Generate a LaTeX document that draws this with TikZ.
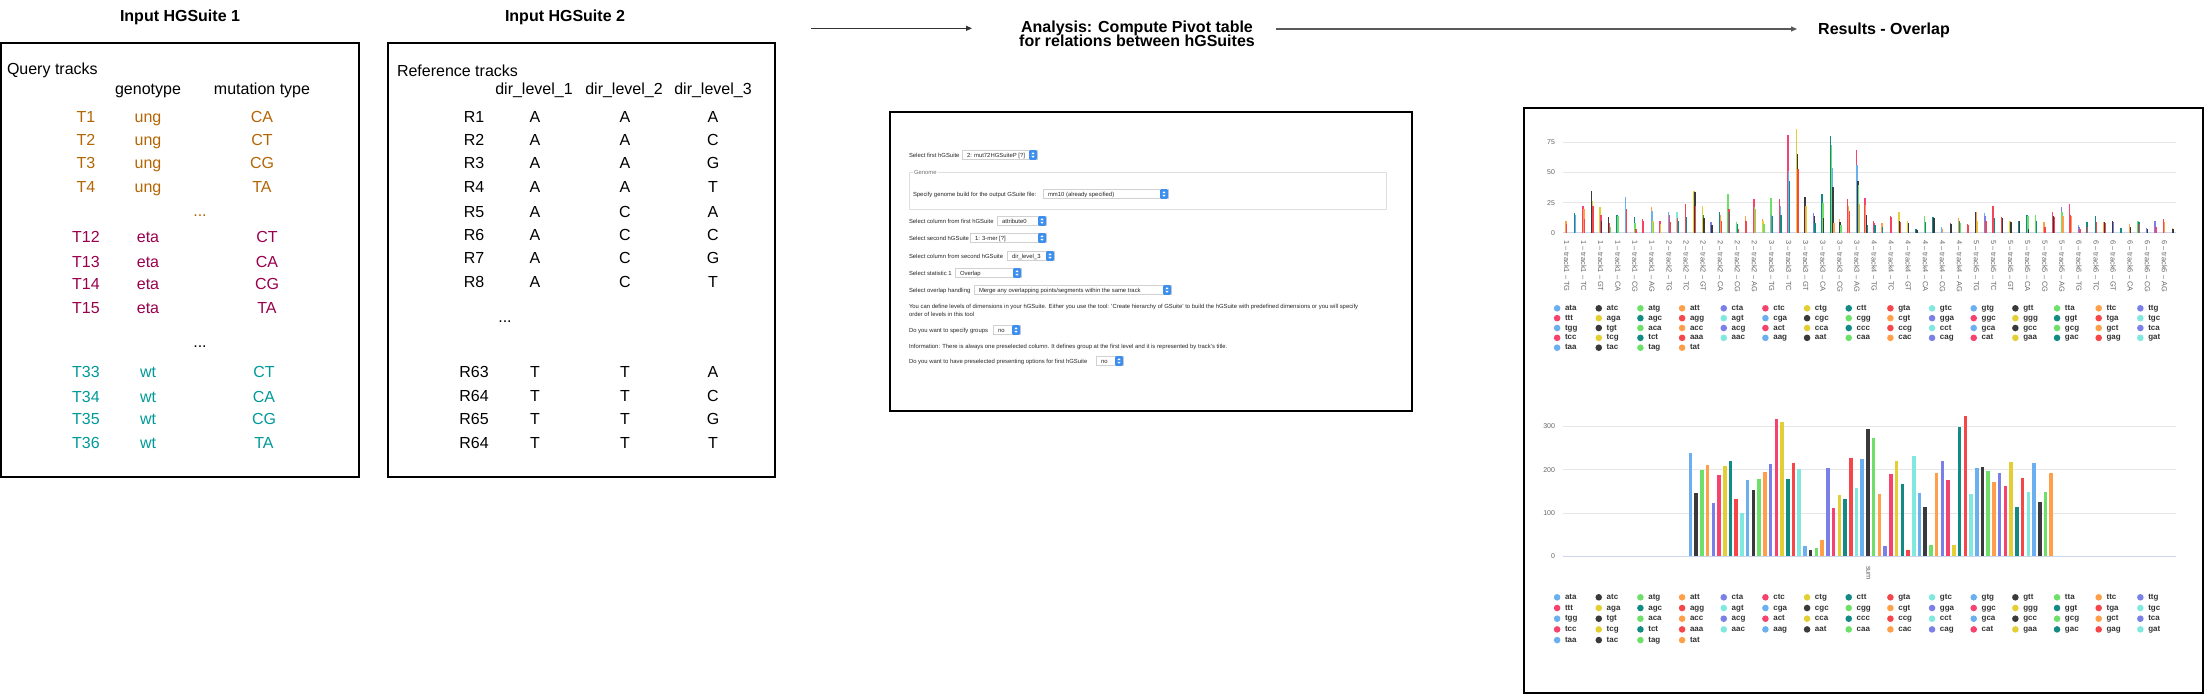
\documentclass[tikz,border=0pt]{standalone}
\usepackage{fontspec}
\setmainfont{Liberation Sans}
\usetikzlibrary{arrows.meta}
\definecolor{c0}{HTML}{6AAFEF}
\definecolor{c1}{HTML}{3A3A3C}
\definecolor{c2}{HTML}{6EE06A}
\definecolor{c3}{HTML}{FF9F4A}
\definecolor{c4}{HTML}{7B7FE8}
\definecolor{c5}{HTML}{F5426F}
\definecolor{c6}{HTML}{E3CF33}
\definecolor{c7}{HTML}{138A83}
\definecolor{c8}{HTML}{F5474A}
\definecolor{c9}{HTML}{80E8DF}
\definecolor{ungc}{HTML}{B46504}
\definecolor{etac}{HTML}{99004D}
\definecolor{wtc}{HTML}{009999}
\definecolor{hcgrid}{HTML}{E6E6E6}
\definecolor{hcaxis}{HTML}{CCD6EB}
\definecolor{hclab}{HTML}{666666}
\definecolor{hcleg}{HTML}{333333}
\definecolor{ddblue}{HTML}{3D8FEF}
\newcommand\dropdown[4]{%
  \draw[ddbox] (#1,{#3-4.4}) rectangle (#2,{#3+4.4});
  \node[small, anchor=west] at ({#1+5},#3) {#4};
  \fill[ddblue, rounded corners=1.2pt] ({#2-8},{#3-4.8}) rectangle (#2,{#3+4.8});
  \fill[white] ({#2-5.6},{#3-0.9}) -- ({#2-2.4},{#3-0.9}) -- ({#2-4},{#3-2.8}) -- cycle;
  \fill[white] ({#2-5.6},{#3+0.9}) -- ({#2-2.4},{#3+0.9}) -- ({#2-4},{#3+2.8}) -- cycle;
}
\newcommand\grp[2]{%
  \foreach \cc/\vv [count=\kk] in {#2}{%
    \fill[\cc] ({1566.7+8.54*(#1-1)+(\kk-2)*0.8-0.7},232.7) rectangle ++(1.4,{-1.204*\vv});
  }%
}
\newcommand\hclegend[2]{%
  \foreach \nm [count=\n from 0] in {ata,atc,atg,att,cta,ctc,ctg,ctt,gta,gtc,gtg,gtt,tta,ttc,ttg,
    ttt,aga,agc,agg,agt,cga,cgc,cgg,cgt,gga,ggc,ggg,ggt,tga,tgc,
    tgg,tgt,aca,acc,acg,act,cca,ccc,ccg,cct,gca,gcc,gcg,gct,tca,
    tcc,tcg,tct,aaa,aac,aag,aat,caa,cac,cag,cat,gaa,gac,gag,gat,
    taa,tac,tag,tat}{%
    \pgfmathtruncatemacro\ci{mod(\n,10)}%
    \pgfmathtruncatemacro\lrow{div(\n,15)}%
    \pgfmathtruncatemacro\lcol{mod(\n,15)}%
    \fill[c\ci] ({1557.1+41.66*\lcol},{#1+#2*\lrow}) circle (3.3);
    \node[leg, anchor=west] at ({1565+41.66*\lcol},{#1+#2*\lrow}) {\nm};
  }%
}
\begin{document}
\begin{tikzpicture}[x=1pt,y=-1pt,
  every node/.style={inner sep=0pt,outer sep=0pt},
  ttl/.style={font=\fontsize{16}{16}\selectfont\bfseries, text height=11.5pt, text depth=0pt},
  cell/.style={font=\fontsize{16}{16}\selectfont, text height=11.5pt, text depth=0pt},
  frame/.style={draw=black, line width=1.3pt},
  flow/.style={draw=black!80, line width=1.2pt, -{Triangle[length=6pt,width=5pt]}},
  small/.style={font=\fontsize{5.9}{7}\selectfont, text=black!85, text height=4.2pt, text depth=0pt},
  ddbox/.style={draw=black!18, fill=white, line width=0.5pt},
  hcg/.style={draw=hcgrid, line width=0.8pt},
  hcax/.style={draw=hcaxis, line width=0.9pt},
  ylab/.style={font=\fontsize{7}{7}\selectfont, text=hclab, text height=5pt, text depth=0pt},
  xlab/.style={font=\fontsize{7.4}{7.4}\selectfont, text=hclab, text height=5.3pt, text depth=0pt},
  leg/.style={font=\fontsize{8}{8}\selectfont\bfseries, text=hcleg, text height=4.2pt, text depth=0pt},
]
\useasboundingbox (0,0) rectangle (2205,694);

% ---------- titles and flow arrows ----------
\node[ttl] (t1) at (180,16) {Input HGSuite 1};
\node[ttl] (t2) at (565,16) {Input HGSuite 2};
\node[ttl] (an1) at (1137,27) {Analysis: Compute Pivot table};
\node[ttl] (an2) at (1137,41) {for relations between hGSuites};
\node[ttl] (res) at (1884,29) {Results - Overlap};
\coordinate (a1s) at (811,28.3);
\coordinate (a1e) at (972,28.3);
\coordinate (a2s) at (1276,29);
\coordinate (a2e) at (1797,29);
\draw[flow] (a1s) -- (a1e);
\draw[flow, draw=black!65] (a2s) -- (a2e);

% ---------- box 1 ----------
\node[frame, minimum width=358pt, minimum height=434pt, anchor=north west] (hg1) at (1,43) {};
\node[cell, anchor=west] (qt) at (7,69) {Query tracks};
\node[cell] (gh) at (148,88.3) {genotype};
\node[cell] (mh) at (262,88.3) {mutation type};
\foreach \ca/\cb/\cd/\yy in {T1/ung/CA/117,T2/ung/CT/140,T3/ung/CG/163,T4/ung/TA/187}{
  \node[cell, text=ungc] at (86,\yy) {\ca};
  \node[cell, text=ungc] at (148,\yy) {\cb};
  \node[cell, text=ungc] at (262,\yy) {\cd};
}
\node[cell, text=ungc] (d1) at (200,211) {...};
\foreach \ca/\cb/\cd/\yy in {T12/eta/CT/237,T13/eta/CA/262,T14/eta/CG/284,T15/eta/TA/308}{
  \node[cell, text=etac] at (86,\yy) {\ca};
  \node[cell, text=etac] at (148,\yy) {\cb};
  \node[cell, text=etac] at (267,\yy) {\cd};
}
\node[cell] (d2) at (200,342) {...};
\foreach \ca/\cb/\cd/\yy in {T33/wt/CT/372,T34/wt/CA/397,T35/wt/CG/419,T36/wt/TA/443}{
  \node[cell, text=wtc] at (86,\yy) {\ca};
  \node[cell, text=wtc] at (148,\yy) {\cb};
  \node[cell, text=wtc] at (264,\yy) {\cd};
}

% ---------- box 2 ----------
\node[frame, minimum width=387pt, minimum height=434pt, anchor=north west] (hg2) at (388,43) {};
\node[cell, anchor=west] (rt) at (397,70.8) {Reference tracks};
\node[cell] (h1) at (534,88.4) {dir\_level\_1};
\node[cell] (h2) at (624,88.4) {dir\_level\_2};
\node[cell] (h3) at (713,88.4) {dir\_level\_3};
\foreach \ca/\cb/\cd/\ce/\yy in {R1/A/A/A/117,R2/A/A/C/140,R3/A/A/G/163,R4/A/A/T/187,
   R5/A/C/A/212,R6/A/C/C/235,R7/A/C/G/258,R8/A/C/T/282,
   R63/T/T/A/372,R64/T/T/C/396,R65/T/T/G/419,R64/T/T/T/443}{
  \node[cell] at (474,\yy) {\ca};
  \node[cell] at (535,\yy) {\cb};
  \node[cell] at (625,\yy) {\cd};
  \node[cell] at (713,\yy) {\ce};
}
\node[cell] (d3) at (505,317) {...};

% ---------- analysis form ----------
\node[frame, minimum width=522pt, minimum height=299pt, anchor=north west] (form) at (890,112) {};
\node[small, anchor=west] at (909,155) {Select first hGSuite};
\dropdown{962}{1037}{155}{2: mut72HGSuiteP [?]}
\draw[draw=black!13, line width=0.5pt] (909,172) rectangle (1386,209);
\node[small, anchor=west, fill=white, text=black!55, inner xsep=1pt] at (913,172) {Genome};
\node[small, anchor=west] at (913,194) {Specify genome build for the output GSuite file:};
\dropdown{1043}{1168}{194}{mm10 (already specified)}
\node[small, anchor=west] at (909,221) {Select column from first hGSuite};
\dropdown{997}{1046}{221}{attribute0}
\node[small, anchor=west] at (909,238) {Select second hGSuite};
\dropdown{970}{1046}{238}{1: 3-mer [?]}
\node[small, anchor=west] at (909,256) {Select column from second hGSuite};
\dropdown{1007}{1054}{256}{dir\_level\_3}
\node[small, anchor=west] at (909,273) {Select statistic 1};
\dropdown{955}{1021}{273}{Overlap}
\node[small, anchor=west] at (909,290) {Select overlap handling};
\dropdown{974}{1171}{290}{Merge any overlapping points/segments within the same track}
\node[small, anchor=west] at (909,306) {You can define levels of dimensions in your hGSuite. Either you use the tool: 'Create hierarchy of GSuite' to build the hGSuite with predefined dimensions or you will specify};
\node[small, anchor=west] at (909,314) {order of levels in this tool};
\node[small, anchor=west] at (909,330) {Do you want to specify groups};
\dropdown{993}{1020}{330}{no}
\node[small, anchor=west] at (909,346) {Information: There is always one preselected column. It defines group at the first level and it is represented by track's title.};
\node[small, anchor=west] at (909,361) {Do you want to have preselected presenting options for first hGSuite};
\dropdown{1096}{1123}{361}{no}

% ---------- results ----------
\node[frame, minimum width=679pt, minimum height=585pt, anchor=north west] (resbox) at (1524,108) {};
% top chart
\foreach \yy in {142.3,172.4,202.5} \draw[hcg] (1563,\yy) -- (2176,\yy);
\draw[hcax] (1563,232.7) -- (2176,232.7);
\foreach \v/\yy in {75/142.3,50/172.4,25/202.5,0/232.7} \node[ylab,anchor=east] at (1555,\yy) {\v};
\grp{1}{c3/10,c8/7}
\grp{2}{c7/16,c0/15}
\grp{3}{c5/22,c3/20,c8/11}
\grp{4}{c1/35,c6/26,c8/22}
\grp{5}{c6/21,c5/15,c1/10}
\grp{6}{c1/13,c8/8,c2/5}
\grp{7}{c7/15,c2/14}
\grp{8}{c0/30,c8/20}
\grp{9}{c7/13,c2/8,c8/3}
\grp{10}{c5/11,c8/10}
\grp{11}{c3/21,c0/18,c6/10,c2/8}
\grp{12}{c5/10,c6/7}
\grp{13}{c0/17,c5/15,c8/9}
\grp{14}{c9/17,c8/12,c7/10}
\grp{15}{c8/24,c7/13}
\grp{16}{c6/35,c1/34,c8/22}
\grp{17}{c6/22,c7/15,c1/12}
\grp{18}{c4/9,c1/6}
\grp{19}{c7/17,c3/15,c8/10}
\grp{20}{c2/32,c8/20,c7/17}
\grp{21}{c2/9,c7/7,c8/3}
\grp{22}{c3/14,c8/10}
\grp{23}{c5/28,c2/21,c3/20}
\grp{24}{c3/11,c6/10,c2/7}
\grp{25}{c2/29,c4/15,c7/14}
\grp{26}{c5/28,c0/22,c7/15}
\grp{27}{c5/81,c0/51,c7/43}
\grp{28}{c6/86,c1/65,c8/53}
\grp{29}{c1/30,c3/22,c6/22}
\grp{30}{c4/16,c1/14,c7/8}
\grp{31}{c7/32,c2/25,c1/12}
\grp{32}{c7/80,c2/73,c0/54,c1/38,c3/8}
\grp{33}{c3/11,c1/9,c2/6}
\grp{34}{c8/28,c3/22,c5/18}
\grp{35}{c5/69,c0/56,c1/43,c2/40,c3/24}
\grp{36}{c5/29,c3/23,c1/15,c7/6}
\grp{37}{c8/10,c5/8,c7/6}
\grp{38}{c3/8,c7/5}
\grp{39}{c8/14,c5/13}
\grp{40}{c6/17,c1/10,c8/9}
\grp{41}{c6/10,c1/8}
\grp{42}{c7/3,c1/2}
\grp{43}{c2/14,c7/9}
\grp{44}{c7/13,c1/12}
\grp{45}{c0/5,c3/3}
\grp{46}{c8/8,c1/7}
\grp{47}{c3/12,c7/10,c2/8}
\grp{48}{c5/7,c8/6}
\grp{49}{c1/17,c3/17,c6/10}
\grp{50}{c0/16,c4/14,c8/10}
\grp{51}{c8/22,c5/20,c7/12}
\grp{52}{c8/13,c1/12}
\grp{53}{c6/10,c1/9}
\grp{54}{c7/10,c1/10}
\grp{55}{c7/15,c2/14,c1/3}
\grp{56}{c2/15,c7/10}
\grp{57}{c3/9,c8/5}
\grp{58}{c5/17,c1/14,c8/13}
\grp{59}{c4/21,c2/17,c3/14}
\grp{60}{c5/24,c8/15,c3/14}
\grp{61}{c0/6,c4/5,c8/3}
\grp{62}{c7/9,c8/5}
\grp{63}{c7/14,c8/9}
\grp{64}{c3/9,c1/9,c8/8}
\grp{65}{c1/10,c4/9}
\grp{66}{c7/4}
\grp{67}{c3/7,c1/5}
\grp{68}{c2/10,c7/9,c8/7}
\grp{69}{c4/4,c1/3}
\grp{70}{c4/10,c5/5}
\grp{71}{c8/11,c3/9}
\grp{72}{c3/4,c1/3}
\foreach \tk in {1,...,6}{
  \foreach \ty [count=\q from 0] in {TG,TC,GT,CA,CG,AG}{
    \node[xlab, rotate=-90, anchor=west] at ({1566.7+8.54*(12*(\tk-1)+2*\q)},240.5) {\tk{} -- track\tk{} -- \ty};
  }
}
\hclegend{308.3}{9.85}
% bottom chart
\foreach \yy in {426,469.5,513} \draw[hcg] (1563,\yy) -- (2176,\yy);
\draw[hcax] (1563,556.3) -- (2176,556.3);
\foreach \v/\yy in {300/426,200/469.5,100/513,0/556.3} \node[ylab,anchor=east] at (1555,\yy) {\v};
\foreach \v [count=\j from 0] in {237,145,198,211,122,188,207,219,133,99,
  175,153,177,194,212,317,310,177,215,202,
  23,15,19,37,204,112,141,133,226,158,
  224,293,272,143,23,189,220,166,15,230,
  145,113,27,193,219,176,25,299,323,143,
  204,206,197,171,193,163,217,113,181,148,
  215,125,148,193}{
  \pgfmathtruncatemacro\ci{mod(\j,10)}
  \fill[c\ci] ({1690.4+5.727*\j-1.8},556.3) rectangle ++(3.6,{-0.434*\v});
}
\node[xlab, rotate=-90] (sum) at (1869,573) {sum};
\hclegend{597.3}{10.7}
\end{tikzpicture}
\end{document}
